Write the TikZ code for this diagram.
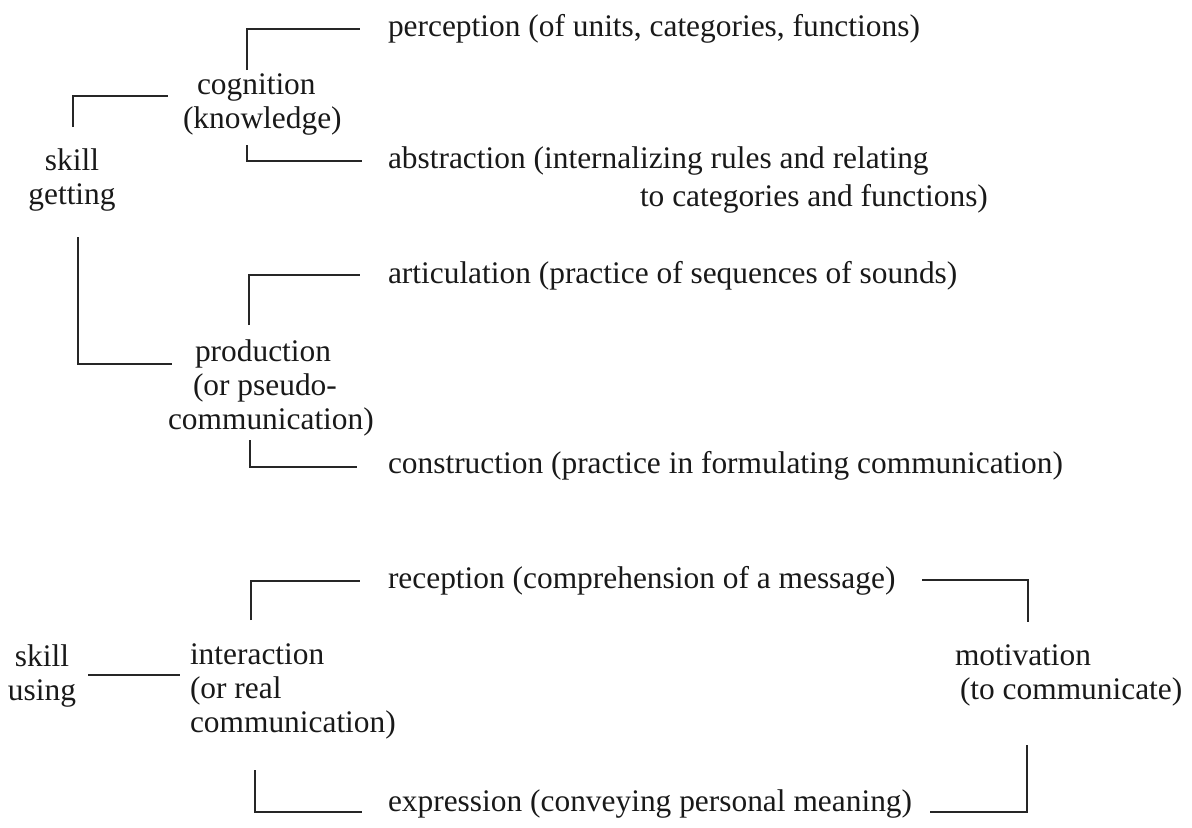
\documentclass[tikz,border=0pt]{standalone}
\usepackage{fontspec}
\setmainfont{Liberation Serif}
\begin{document}
\begin{tikzpicture}[x=0.5pt,y=-0.5pt,
  lbl/.style={inner sep=0pt, outer sep=0pt, font=\fontsize{15.7}{17}\selectfont, text=black!90},
  link/.style={draw=black!85, line width=0.75pt}]
\useasboundingbox (0,0) rectangle (1192,827);
% right-column texts
\node[lbl,anchor=west] (perc) at (388,29) {perception (of units, categories, functions)};
\node[lbl,anchor=west,align=left] (abstr) at (388,180) {abstraction (internalizing rules and relating\\[2pt]\hspace*{126pt}to categories and functions)};
\node[lbl,anchor=west] (artic) at (388,276) {articulation (practice of sequences of sounds)};
\node[lbl,anchor=west] (constr) at (388,466) {construction (practice in formulating communication)};
\node[lbl,anchor=west] (recep) at (388,581) {reception (comprehension of a message)};
\node[lbl,anchor=west] (expr) at (388,804) {expression (conveying personal meaning)};
% left and middle texts
\node[lbl,anchor=west,align=left] (cog) at (183,104) {\hspace*{7pt}cognition\\(knowledge)};
\node[lbl,align=center] (skget) at (72,180) {skill\\getting};
\node[lbl,anchor=west,align=left] (prod) at (168,388) {\hspace*{13.5pt}production\\\hspace*{12.5pt}(or pseudo-\\communication)};
\node[lbl,align=center] (skuse) at (42,676) {skill\\using};
\node[lbl,anchor=west,align=left] (inter) at (190,691) {interaction\\(or real\\communication)};
\node[lbl,anchor=west,align=left] (motiv) at (955,675) {motivation\\\hspace*{2.5pt}(to communicate)};
% bracket end points
\coordinate (cogN) at (247,70);   \coordinate (percW) at (360,29);
\coordinate (cogS) at (247,145);  \coordinate (abstrW) at (362,161);
\coordinate (sgN) at (73,127);    \coordinate (cogW) at (168,96);
\coordinate (sgS) at (78,237);    \coordinate (prodW) at (172,364);
\coordinate (prodN) at (249,325); \coordinate (articW) at (360,275);
\coordinate (prodS) at (250,440); \coordinate (constrW) at (357,467);
\coordinate (skuE) at (88,675);   \coordinate (interW) at (180,675);
\coordinate (interN) at (251,620); \coordinate (recepW) at (360,581);
\coordinate (interS) at (255,770); \coordinate (exprW) at (362,812);
\coordinate (recepE) at (922,580); \coordinate (motivN) at (1028,622);
\coordinate (exprE) at (930,812);  \coordinate (motivS) at (1027,745);
% connectors
\draw[link] (cogN) |- (percW);
\draw[link] (cogS) |- (abstrW);
\draw[link] (sgN) |- (cogW);
\draw[link] (sgS) |- (prodW);
\draw[link] (prodN) |- (articW);
\draw[link] (prodS) |- (constrW);
\draw[link] (skuE) -- (interW);
\draw[link] (interN) |- (recepW);
\draw[link] (interS) |- (exprW);
\draw[link] (recepE) -| (motivN);
\draw[link] (exprE) -| (motivS);
\end{tikzpicture}
\end{document}
